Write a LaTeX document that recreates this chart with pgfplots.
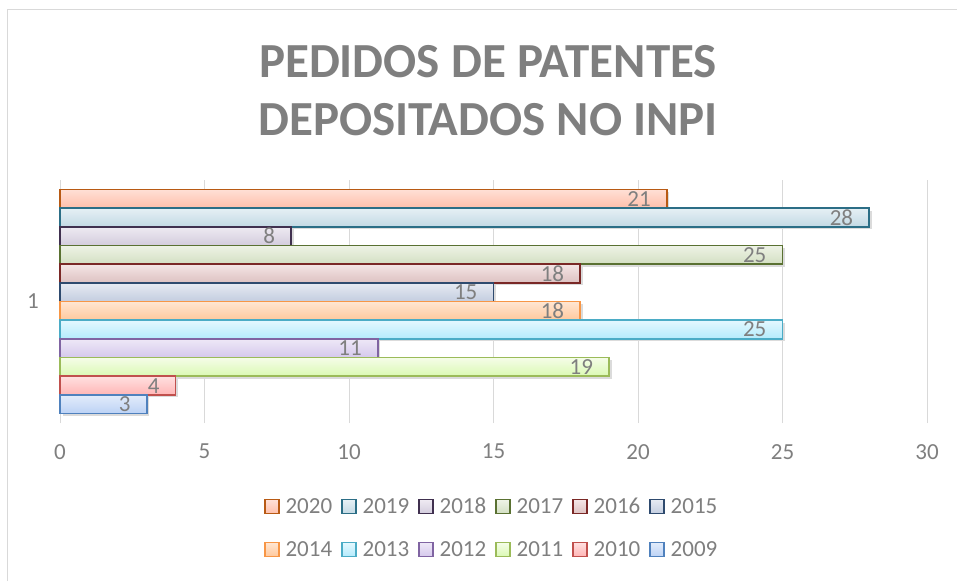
\documentclass[border=0pt]{standalone}
\usepackage{fontspec}
\setmainfont{Carlito}
\usepackage{pgfplots}
\pgfplotsset{compat=1.18}
\definecolor{txt}{HTML}{7F7F7F}
\definecolor{gridc}{HTML}{D9D9D9}
\definecolor{b20}{HTML}{B85A14}\definecolor{t20}{HTML}{FFE0D6}\definecolor{u20}{HTML}{FFBFAA}
\definecolor{b19}{HTML}{2C6E86}\definecolor{t19}{HTML}{E6F0F5}\definecolor{u19}{HTML}{C3D9E4}
\definecolor{b18}{HTML}{40304F}\definecolor{t18}{HTML}{EEEAF2}\definecolor{u18}{HTML}{D3CCDD}
\definecolor{b17}{HTML}{5A7132}\definecolor{t17}{HTML}{EEF3E6}\definecolor{u17}{HTML}{D3DFC2}
\definecolor{b16}{HTML}{7A2826}\definecolor{t16}{HTML}{F4E6E6}\definecolor{u16}{HTML}{DDC1C1}
\definecolor{b15}{HTML}{2E4A6E}\definecolor{t15}{HTML}{E6EAF2}\definecolor{u15}{HTML}{C3CDE0}
\definecolor{b14}{HTML}{F79646}\definecolor{t14}{HTML}{FFE6D2}\definecolor{u14}{HTML}{FFC89C}
\definecolor{b13}{HTML}{4BACC6}\definecolor{t13}{HTML}{E4F8FF}\definecolor{u13}{HTML}{B3EBFC}
\definecolor{b12}{HTML}{8064A2}\definecolor{t12}{HTML}{EEE8F7}\definecolor{u12}{HTML}{D5C8EC}
\definecolor{b11}{HTML}{9BBB59}\definecolor{t11}{HTML}{F5FDE8}\definecolor{u11}{HTML}{DAF9B3}
\definecolor{b10}{HTML}{C0504D}\definecolor{t10}{HTML}{FFE0E0}\definecolor{u10}{HTML}{FFB5B5}
\definecolor{b09}{HTML}{4F81BD}\definecolor{t09}{HTML}{E2ECFB}\definecolor{u09}{HTML}{BCD2F5}
\begin{document}
\begin{tikzpicture}
\useasboundingbox (0pt,0pt) rectangle (957pt,581pt);
\draw[gridc, line width=1pt] (7pt,0pt) -- (7pt,571pt) -- (957pt,571pt);
\node[font=\bfseries\fontsize{49}{58}\selectfont, text=txt, align=center] at (488pt,490pt) {PEDIDOS DE PATENTES\\DEPOSITADOS NO INPI};
\begin{axis}[
  at={(60pt,158pt)}, anchor=south west, scale only axis,
  width=867pt, height=243pt,
  xmin=0, xmax=30, ymin=0, ymax=13,
  xtick={0,5,...,30}, ytick={6.5}, yticklabels={1},
  xmajorgrids, grid style={draw=gridc, line width=1pt},
  axis lines*=left,
  x axis line style={draw=none},
  y axis line style={draw=gridc, line width=1pt},
  major tick length=0pt,
  tick label style={font=\fontsize{23}{27}\selectfont, text=txt},
  /pgf/number format/assume math mode=true,
  xticklabel style={yshift=-17pt},
  yticklabel style={xshift=-17pt},
  xbar, bar width=1, bar shift=0pt,
  line width=1.6pt,
  every node near coord/.append style={anchor=east, xshift=-12pt, font=\fontsize{23}{27}\selectfont, text=txt},
  legend image code/.code={\draw[#1, line width=1.4pt] (0pt,-7pt) rectangle (14pt,7pt);},
  legend columns=6,
  legend style={draw=none, fill=none, at={(0.498,-0.432)}, anchor=center,
    font=\fontsize{23}{27}\selectfont, text=txt, row sep=22pt,
    /tikz/every odd column/.append style={column sep=4pt},
    /tikz/every even column/.append style={column sep=7pt}},
  clip=false,
]
% shadows
\addplot[forget plot, draw=none, fill=black!14, transform canvas={shift={(2.5pt,-2.5pt)}}] coordinates {(21,12)};
\addplot[forget plot, draw=none, fill=black!14, transform canvas={shift={(2.5pt,-2.5pt)}}] coordinates {(28,11)};
\addplot[forget plot, draw=none, fill=black!14, transform canvas={shift={(2.5pt,-2.5pt)}}] coordinates {(8,10)};
\addplot[forget plot, draw=none, fill=black!14, transform canvas={shift={(2.5pt,-2.5pt)}}] coordinates {(25,9)};
\addplot[forget plot, draw=none, fill=black!14, transform canvas={shift={(2.5pt,-2.5pt)}}] coordinates {(18,8)};
\addplot[forget plot, draw=none, fill=black!14, transform canvas={shift={(2.5pt,-2.5pt)}}] coordinates {(15,7)};
\addplot[forget plot, draw=none, fill=black!14, transform canvas={shift={(2.5pt,-2.5pt)}}] coordinates {(18,6)};
\addplot[forget plot, draw=none, fill=black!14, transform canvas={shift={(2.5pt,-2.5pt)}}] coordinates {(25,5)};
\addplot[forget plot, draw=none, fill=black!14, transform canvas={shift={(2.5pt,-2.5pt)}}] coordinates {(11,4)};
\addplot[forget plot, draw=none, fill=black!14, transform canvas={shift={(2.5pt,-2.5pt)}}] coordinates {(19,3)};
\addplot[forget plot, draw=none, fill=black!14, transform canvas={shift={(2.5pt,-2.5pt)}}] coordinates {(4,2)};
\addplot[forget plot, draw=none, fill=black!14, transform canvas={shift={(2.5pt,-2.5pt)}}] coordinates {(3,1)};
% bars
\addplot[nodes near coords, draw=b20, top color=t20, bottom color=u20] coordinates {(21,12)};
\addlegendentry{2020}
\addplot[nodes near coords, draw=b19, top color=t19, bottom color=u19] coordinates {(28,11)};
\addlegendentry{2019}
\addplot[nodes near coords, draw=b18, top color=t18, bottom color=u18] coordinates {(8,10)};
\addlegendentry{2018}
\addplot[nodes near coords, draw=b17, top color=t17, bottom color=u17] coordinates {(25,9)};
\addlegendentry{2017}
\addplot[nodes near coords, draw=b16, top color=t16, bottom color=u16] coordinates {(18,8)};
\addlegendentry{2016}
\addplot[nodes near coords, draw=b15, top color=t15, bottom color=u15] coordinates {(15,7)};
\addlegendentry{2015}
\addplot[nodes near coords, draw=b14, top color=t14, bottom color=u14] coordinates {(18,6)};
\addlegendentry{2014}
\addplot[nodes near coords, draw=b13, top color=t13, bottom color=u13] coordinates {(25,5)};
\addlegendentry{2013}
\addplot[nodes near coords, draw=b12, top color=t12, bottom color=u12] coordinates {(11,4)};
\addlegendentry{2012}
\addplot[nodes near coords, draw=b11, top color=t11, bottom color=u11] coordinates {(19,3)};
\addlegendentry{2011}
\addplot[nodes near coords, draw=b10, top color=t10, bottom color=u10] coordinates {(4,2)};
\addlegendentry{2010}
\addplot[nodes near coords, draw=b09, top color=t09, bottom color=u09] coordinates {(3,1)};
\addlegendentry{2009}
\end{axis}
\end{tikzpicture}
\end{document}
